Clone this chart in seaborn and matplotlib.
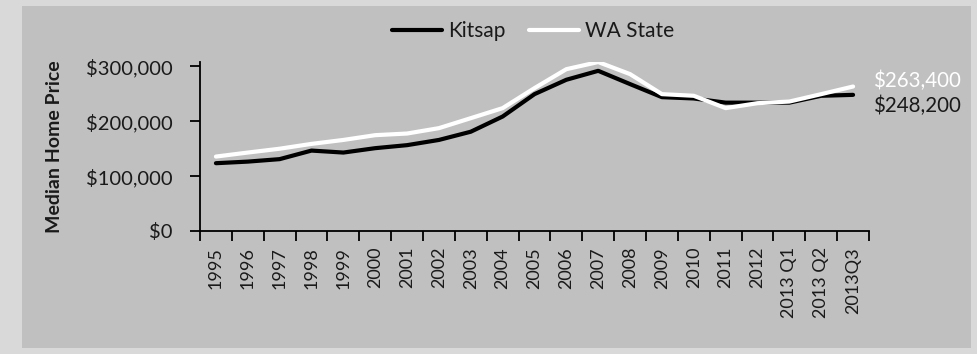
import matplotlib
matplotlib.use("Agg")
import matplotlib.pyplot as plt
from matplotlib.patches import Rectangle
from matplotlib.ticker import FuncFormatter, FixedLocator
import numpy as np
import pandas as pd
import seaborn as sns

periods = ["1995", "1996", "1997", "1998", "1999", "2000", "2001", "2002",
           "2003", "2004", "2005", "2006", "2007", "2008", "2009", "2010",
           "2011", "2012", "2013 Q1", "2013 Q2", "2013Q3"]
kitsap = [123600, 126500, 131000, 146600, 143000, 151000, 156500, 166000,
          181000, 208700, 249500, 275700, 292000, 267800, 244000, 241600,
          234000, 234000, 234000, 246500, 248200]
wa_state = [135700, 143000, 150000, 158800, 166000, 174700, 177700, 187500,
            205700, 224000, 260500, 295000, 308000, 286000, 249500, 246500,
            224000, 233000, 236000, 249500, 263400]
series_names = ["Kitsap", "WA State"]
series_colors = ["#000000", "#ffffff"]
y_ticks = [0, 100000, 200000, 300000]

df = pd.DataFrame({
    "period": periods * 2,
    "pos": list(range(len(periods))) * 2,
    "price": kitsap + wa_state,
    "series": [series_names[0]] * len(periods) + [series_names[1]] * len(periods),
})

sns.set_style("white")
plt.rcParams["font.family"] = ["Lato", "DejaVu Sans"]
TXT = "#1a1a1a"

W, H = 977, 354
fig = plt.figure(figsize=(W / 100, H / 100), dpi=100, facecolor="#d9d9d9")
fig.patches.append(Rectangle((22 / W, 1 - 348 / H), (971 - 22) / W, (348 - 6) / H,
                             transform=fig.transFigure, facecolor="#c0c0c0",
                             edgecolor="none", zorder=-5))

ax = fig.add_axes([200 / W, 1 - 231 / H, (869 - 200) / W, (231 - 61.5) / H])
ax.set_facecolor("none")
ax.set_zorder(2)

sns.lineplot(data=df, x="pos", y="price", hue="series", palette=series_colors,
             hue_order=series_names, linewidth=3.0, ax=ax, legend=True,
             sort=False)

n = len(periods)
ax.set_xlim(-0.5, n - 0.5)
ax.set_ylim(0, 309000)

# category boundaries carry the tick marks, centres carry the labels
ax.xaxis.set_major_locator(FixedLocator(np.arange(-0.5, n, 1.0)))
ax.xaxis.set_major_formatter(FuncFormatter(lambda v, p: ""))
ax.set_xticks(np.arange(n), periods, minor=True, rotation=90, fontsize=13)
ax.tick_params(axis="x", which="major", direction="out", length=7, width=1.3,
               color="black", bottom=True)
ax.tick_params(axis="x", which="minor", length=0, pad=11.5, labelcolor=TXT)

ax.set_yticks(y_ticks)
ax.yaxis.set_major_formatter(FuncFormatter(lambda v, p: f"${v:,.0f}"))
ax.tick_params(axis="y", direction="out", length=7, width=1.3, color="black",
               labelsize=14.5, pad=12.5, left=True, labelcolor=TXT)

for side in ("top", "right"):
    ax.spines[side].set_visible(False)
for side in ("left", "bottom"):
    ax.spines[side].set_color("black")
    ax.spines[side].set_linewidth(1.3)

ax.set_xlabel("")
ax.set_ylabel("Median Home Price", fontsize=14, fontweight="bold", labelpad=17,
              color=TXT)

# end-of-series value labels
ax.annotate(f"${wa_state[-1]:,}", xy=(n - 1, wa_state[-1]), xytext=(14, 4),
            textcoords="offset points", color="white", fontsize=14.8,
            va="center", ha="left")
ax.annotate(f"${kitsap[-1]:,}", xy=(n - 1, kitsap[-1]), xytext=(14, -8),
            textcoords="offset points", color=TXT, fontsize=14.8,
            va="center", ha="left")

handles, labels = ax.get_legend_handles_labels()
leg = ax.legend(handles, labels, loc="center", bbox_to_anchor=(533 / W, 1 - 31 / H),
                bbox_transform=fig.transFigure, ncol=2, frameon=False, fontsize=15,
                handlelength=2.4, handletextpad=0.3, columnspacing=1.1)
for t in leg.get_texts():
    t.set_color(TXT)

fig.savefig("out.png", dpi=100, facecolor=fig.get_facecolor())
